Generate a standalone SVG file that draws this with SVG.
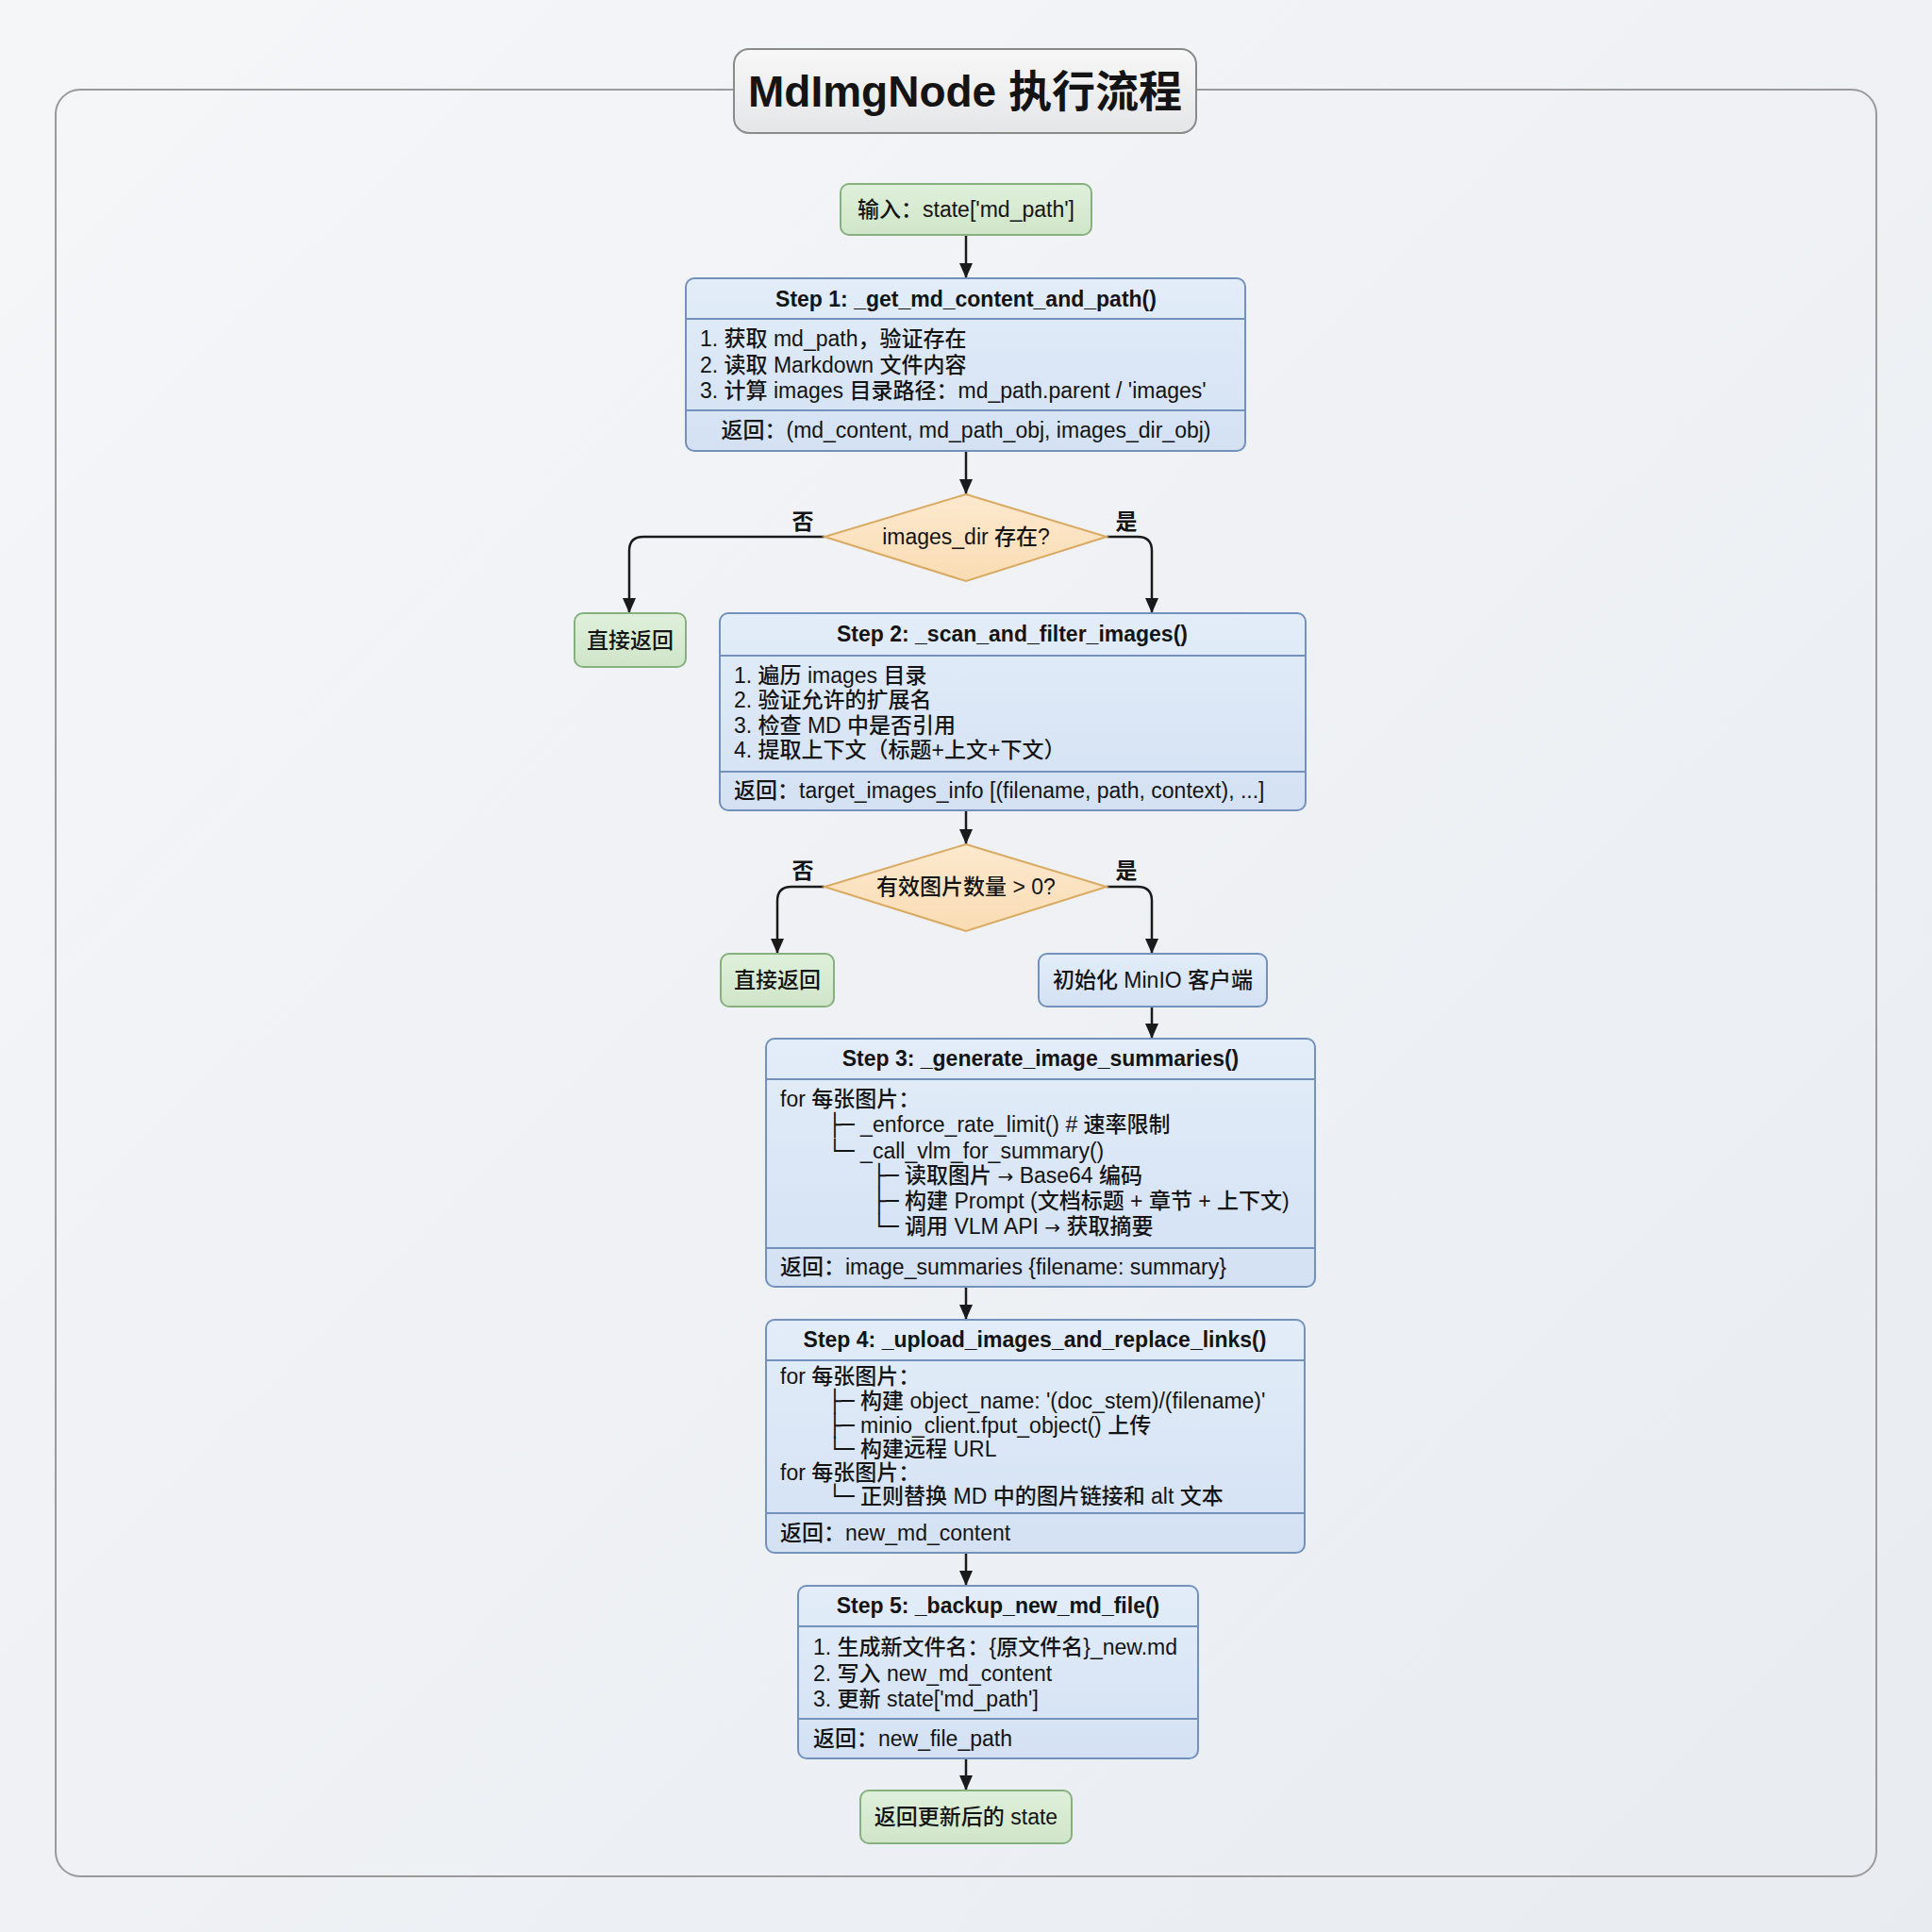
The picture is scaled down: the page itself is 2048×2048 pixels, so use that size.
<svg xmlns="http://www.w3.org/2000/svg" width="2048" height="2048" viewBox="0 0 2048 2048">
<defs>
<linearGradient id="bg" x1="0" y1="0" x2="1" y2="1"><stop offset="0" stop-color="#f5f6f8"/><stop offset="1" stop-color="#e8ecf1"/></linearGradient>
<linearGradient id="gBlue" x1="0" y1="0" x2="0" y2="1"><stop offset="0" stop-color="#e3edf9"/><stop offset="1" stop-color="#d3e1f3"/></linearGradient>
<linearGradient id="gGreen" x1="0" y1="0" x2="0" y2="1"><stop offset="0" stop-color="#dff0da"/><stop offset="1" stop-color="#cfe5c9"/></linearGradient>
<linearGradient id="gOrange" x1="0" y1="0" x2="0" y2="1"><stop offset="0" stop-color="#fde9cf"/><stop offset="1" stop-color="#f9dcb3"/></linearGradient>
<linearGradient id="gTitle" x1="0" y1="0" x2="0" y2="1"><stop offset="0" stop-color="#f7f7f7"/><stop offset="1" stop-color="#e5e6e8"/></linearGradient>
<marker id="arr" viewBox="0 0 16 14" refX="16" refY="7" markerWidth="16" markerHeight="14" markerUnits="userSpaceOnUse" orient="auto"><path d="M0,0 L16,7 L0,14 z" fill="#1a1a1a"/></marker>
</defs>
<style>
text{font-family:"Liberation Sans","Noto Sans CJK SC",sans-serif;fill:#141414;font-size:23px;font-weight:500}
.hd{font-weight:bold;text-anchor:middle}
.c{text-anchor:middle}
.blue{fill:url(#gBlue);stroke:#7291bb;stroke-width:2}
.green{fill:url(#gGreen);stroke:#86b07e;stroke-width:2}
.orange{fill:url(#gOrange);stroke:#d9aa62;stroke-width:2}
.div{stroke:#7291bb;stroke-width:2}
.conn path{fill:none;stroke:#1a1a1a;stroke-width:2.5;marker-end:url(#arr)}
.lbl{font-weight:bold;text-anchor:middle}
.tr{font-family:"DejaVu Sans",sans-serif}
.ar{font-family:"DejaVu Sans",sans-serif;font-size:20px}
</style>
<rect width="2048" height="2048" fill="url(#bg)"/>
<rect x="59" y="95" width="1930" height="1894" rx="26" fill="none" stroke="#9a9a9a" stroke-width="2"/>
<g id="title">
<rect x="778" y="52" width="490" height="89" rx="16" fill="url(#gTitle)" stroke="#8a8a8a" stroke-width="2"/>
<text x="1023" y="113" class="hd" style="font-size:46px">MdImgNode 执行流程</text>
</g>
<g class="conn" id="connectors">
<path d="M1024,249 V295"/>
<path d="M1024,478 V524"/>
<path d="M874,569 H682 Q667,569 667,584 V650"/>
<path d="M1173,569 H1206 Q1221,569 1221,584 V650"/>
<path d="M1024,859 V895"/>
<path d="M874,940 H839 Q824,940 824,955 V1011"/>
<path d="M1173,940 H1206 Q1221,940 1221,955 V1011"/>
<path d="M1221,1067 V1101"/>
<path d="M1024,1364 V1399"/>
<path d="M1024,1646 V1681"/>
<path d="M1024,1864 V1898"/>
</g>
<g id="labels">
<text x="851" y="561" class="lbl">否</text>
<text x="1194" y="561" class="lbl">是</text>
<text x="851" y="931" class="lbl">否</text>
<text x="1194" y="931" class="lbl">是</text>
</g>
<g id="input">
<rect x="891" y="195" width="266" height="54" rx="9" class="green"/>
<text x="1024" y="230" class="c">输入：state['md_path']</text>
</g>
<g id="step1">
<rect x="727" y="295" width="593" height="183" rx="9" class="blue"/>
<line x1="727" y1="338" x2="1320" y2="338" class="div"/>
<line x1="727" y1="435" x2="1320" y2="435" class="div"/>
<text x="1024" y="325" class="hd">Step 1: _get_md_content_and_path()</text>
<text x="742" y="367">1. 获取 md_path，验证存在</text>
<text x="742" y="395">2. 读取 Markdown 文件内容</text>
<text x="742" y="422">3. 计算 images 目录路径：md_path.parent / 'images'</text>
<text x="1024" y="464" class="c">返回：(md_content, md_path_obj, images_dir_obj)</text>
</g>
<g id="decision1">
<polygon points="1024,524 1173,569 1024,616 874,569" class="orange"/>
<text x="1024" y="577" class="c">images_dir 存在?</text>
</g>
<g id="return1">
<rect x="609" y="650" width="118" height="57" rx="9" class="green"/>
<text x="668" y="687" class="c">直接返回</text>
</g>
<g id="step2">
<rect x="763" y="650" width="621" height="209" rx="9" class="blue"/>
<line x1="763" y1="695" x2="1384" y2="695" class="div"/>
<line x1="763" y1="818" x2="1384" y2="818" class="div"/>
<text x="1073" y="680" class="hd">Step 2: _scan_and_filter_images()</text>
<text x="778" y="724">1. 遍历 images 目录</text>
<text x="778" y="750">2. 验证允许的扩展名</text>
<text x="778" y="777">3. 检查 MD 中是否引用</text>
<text x="778" y="803">4. 提取上下文（标题+上文+下文）</text>
<text x="778" y="846">返回：target_images_info [(filename, path, context), ...]</text>
</g>
<g id="decision2">
<polygon points="1024,895 1173,940 1024,987 874,940" class="orange"/>
<text x="1024" y="948" class="c">有效图片数量 &gt; 0?</text>
</g>
<g id="return2">
<rect x="764" y="1011" width="120" height="56" rx="9" class="green"/>
<text x="824" y="1047" class="c">直接返回</text>
</g>
<g id="minio">
<rect x="1101" y="1011" width="242" height="56" rx="9" class="blue"/>
<text x="1222" y="1047" class="c">初始化 MinIO 客户端</text>
</g>
<g id="step3">
<rect x="812" y="1101" width="582" height="263" rx="9" class="blue"/>
<line x1="812" y1="1144" x2="1394" y2="1144" class="div"/>
<line x1="812" y1="1323" x2="1394" y2="1323" class="div"/>
<text x="1103" y="1130" class="hd">Step 3: _generate_image_summaries()</text>
<text x="827" y="1173">for 每张图片：</text>
<text x="878" y="1200"><tspan class="tr">├─</tspan> _enforce_rate_limit() # 速率限制</text>
<text x="878" y="1228"><tspan class="tr">└─</tspan>  _call_vlm_for_summary()</text>
<text x="925" y="1254"><tspan class="tr">├─</tspan> 读取图片 <tspan class="ar">→</tspan> Base64 编码</text>
<text x="925" y="1281"><tspan class="tr">├─</tspan> 构建 Prompt (文档标题 + 章节 + 上下文)</text>
<text x="925" y="1308"><tspan class="tr">└─</tspan> 调用 VLM API <tspan class="ar">→</tspan> 获取摘要</text>
<text x="827" y="1351">返回：image_summaries {filename: summary}</text>
</g>
<g id="step4">
<rect x="812" y="1399" width="571" height="247" rx="9" class="blue"/>
<line x1="812" y1="1442" x2="1383" y2="1442" class="div"/>
<line x1="812" y1="1604" x2="1383" y2="1604" class="div"/>
<text x="1097" y="1428" class="hd">Step 4: _upload_images_and_replace_links()</text>
<text x="827" y="1467">for 每张图片：</text>
<text x="878" y="1493"><tspan class="tr">├─</tspan> 构建 object_name: '(doc_stem)/(filename)'</text>
<text x="878" y="1519"><tspan class="tr">├─</tspan> minio_client.fput_object() 上传</text>
<text x="878" y="1544"><tspan class="tr">└─</tspan> 构建远程 URL</text>
<text x="827" y="1569">for 每张图片：</text>
<text x="878" y="1594"><tspan class="tr">└─</tspan> 正则替换 MD 中的图片链接和 alt 文本</text>
<text x="827" y="1633">返回：new_md_content</text>
</g>
<g id="step5">
<rect x="846" y="1681" width="424" height="183" rx="9" class="blue"/>
<line x1="846" y1="1724" x2="1270" y2="1724" class="div"/>
<line x1="846" y1="1822" x2="1270" y2="1822" class="div"/>
<text x="1058" y="1710" class="hd">Step 5: _backup_new_md_file()</text>
<text x="862" y="1754">1. 生成新文件名：{原文件名}_new.md</text>
<text x="862" y="1782">2. 写入 new_md_content</text>
<text x="862" y="1809">3. 更新 state['md_path']</text>
<text x="862" y="1851">返回：new_file_path</text>
</g>
<g id="end">
<rect x="912" y="1898" width="224" height="56" rx="9" class="green"/>
<text x="1024" y="1934" class="c">返回更新后的 state</text>
</g>
</svg>
